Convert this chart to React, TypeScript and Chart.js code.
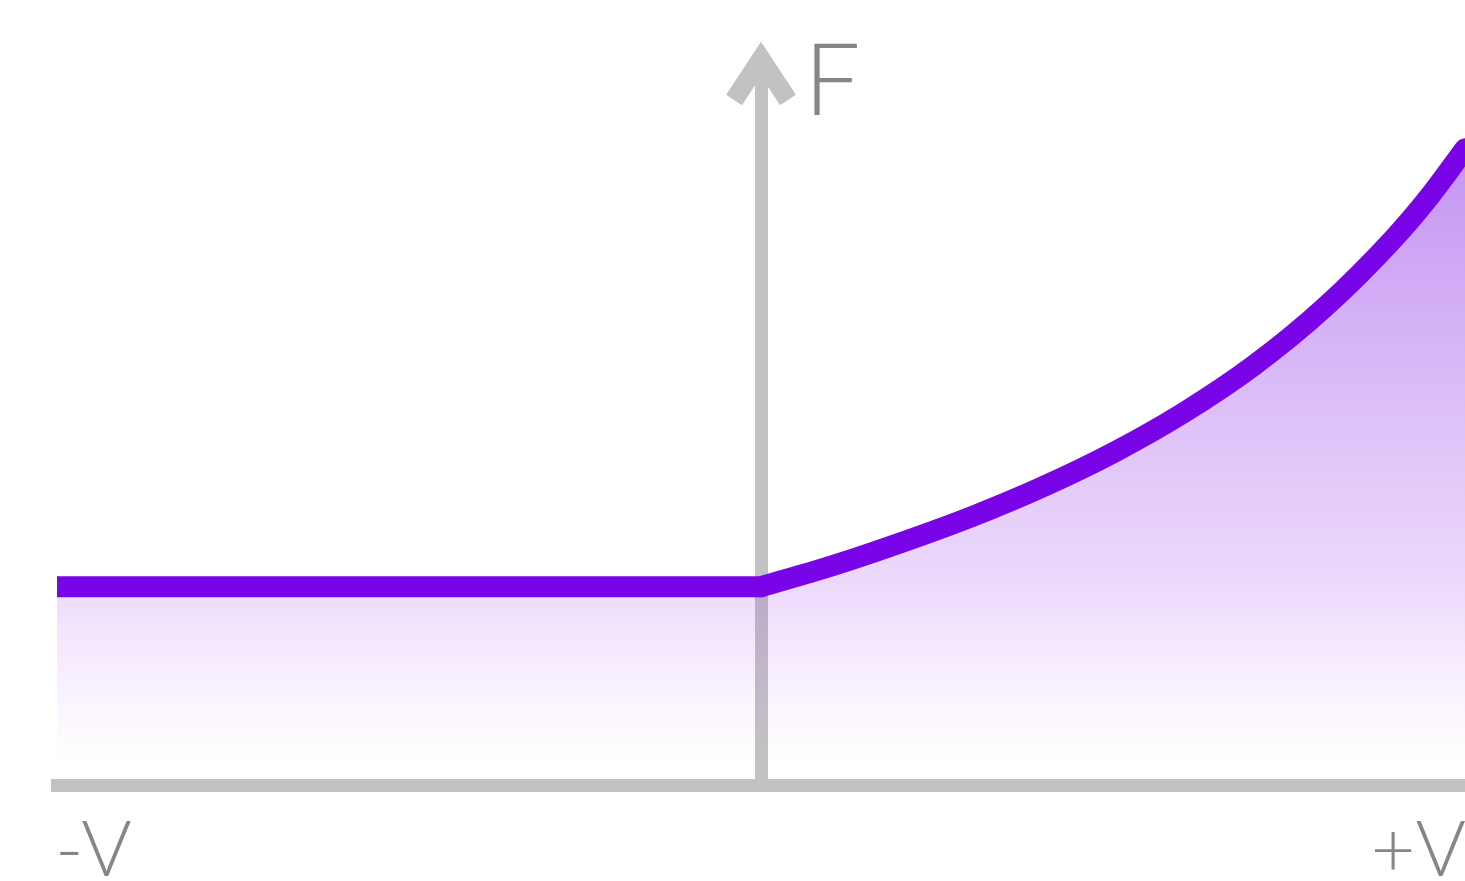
import { useEffect, useRef } from "react";
import { Chart, registerables } from "chart.js";

Chart.register(...registerables);

// ---- data ----
const negativeSideV = [-100, 0];
const negativeSideF = [26.8, 26.8];
const positiveSideV = [0, 10, 20, 30, 40, 50, 60, 70, 80, 90, 95, 100];
const positiveSideF = [26.8, 29.6, 32.8, 36.3, 40.3, 44.9, 50.3, 56.7, 64.5, 74.0, 79.6, 86.0];
const axisTickValues = [-100, 100];
const axisTickLabels = ["-V", "+V"];
const yAxisLabel = "F";

// ---- styles ----
const LINE_COLOR = "rgb(122, 4, 232)";
const AXIS_COLOR = "#c2c2c2";
const TEXT_COLOR = "#868686";
const FONT_FAMILY = "Lato, 'Open Sans', sans-serif";

function makeFill(context: any) {
  const chart = context.chart;
  const { chartArea, scales } = chart;
  if (!chartArea) return "rgba(140,50,230,0.2)";
  const yTop = scales.y.getPixelForValue(86);
  const yBottom = scales.y.getPixelForValue(0);
  const g = chart.ctx.createLinearGradient(0, yTop, 0, yBottom);
  g.addColorStop(0, "rgba(140, 50, 230, 0.52)");
  g.addColorStop(0.69, "rgba(160, 70, 235, 0.2)");
  g.addColorStop(0.97, "rgba(200, 120, 245, 0.0)");
  g.addColorStop(1, "rgba(200, 120, 245, 0.0)");
  return g;
}

const axisDecorPlugin = {
  id: "axisDecor",
  afterDraw(chart: any) {
    const { ctx, scales } = chart;
    const x = scales.x;
    const y = scales.y;
    const cx = x.getPixelForValue(0);
    const top = y.top;
    const bottom = y.bottom;
    ctx.save();
    // arrow head on the F axis
    ctx.strokeStyle = AXIS_COLOR;
    ctx.lineWidth = 19;
    ctx.lineJoin = "miter";
    ctx.lineCap = "butt";
    ctx.beginPath();
    ctx.moveTo(cx - 27, top + 40);
    ctx.lineTo(cx, top - 1);
    ctx.lineTo(cx + 27, top + 40);
    ctx.stroke();
    // F label
    ctx.fillStyle = TEXT_COLOR;
    ctx.font = `300 100px ${FONT_FAMILY}`;
    ctx.textBaseline = "alphabetic";
    ctx.textAlign = "left";
    ctx.fillText(yAxisLabel, cx + 43, top + 55);
    // V axis labels at the ends of the axis
    ctx.font = `300 77px ${FONT_FAMILY}`;
    axisTickValues.forEach((v, i) => {
      const px = x.getPixelForValue(v);
      ctx.textAlign = i === 0 ? "left" : "right";
      ctx.fillText(axisTickLabels[i], i === 0 ? px - 2 : px + 1, bottom + 91);
    });
    ctx.restore();
  },
};

export default function App() {
  const ref = useRef<HTMLCanvasElement | null>(null);

  useEffect(() => {
    if (!ref.current) return;
    const chart = new Chart(ref.current, {
      type: "line",
      data: {
        datasets: [
          {
            label: "neg",
            data: negativeSideV.map((v, i) => ({ x: v, y: negativeSideF[i] })),
            borderColor: LINE_COLOR,
            borderWidth: 21,
            borderCapStyle: "round",
            borderJoinStyle: "round",
            pointRadius: 0,
            tension: 0,
            fill: "origin",
            backgroundColor: makeFill,
            clip: 0,
          },
          {
            label: "pos",
            data: positiveSideV.map((v, i) => ({ x: v, y: positiveSideF[i] })),
            borderColor: LINE_COLOR,
            borderWidth: 21,
            borderCapStyle: "round",
            borderJoinStyle: "round",
            pointRadius: 0,
            cubicInterpolationMode: "monotone",
            fill: "origin",
            backgroundColor: makeFill,
            clip: 0,
          },
        ],
      },
      options: {
        animation: false,
        responsive: false,
        maintainAspectRatio: false,
        events: [],
        layout: { padding: { left: 57, right: 0, top: 60, bottom: 96 } },
        plugins: {
          legend: { display: false },
          tooltip: { enabled: false },
          title: { display: false },
        },
        scales: {
          x: {
            type: "linear",
            min: -100,
            max: 100,
            grid: { display: false, drawTicks: false },
            border: { display: true, color: AXIS_COLOR, width: 13 },
            ticks: { display: false },
          },
          y: {
            type: "linear",
            min: 0,
            max: 98,
            position: { x: 0 },
            grid: { display: false, drawTicks: false },
            border: { display: true, color: AXIS_COLOR, width: 13 },
            ticks: { display: false },
          },
        },
      },
      plugins: [axisDecorPlugin],
    } as any);
    return () => chart.destroy();
  }, []);

  return (
    <canvas
      ref={ref}
      width={1465}
      height={881}
      style={{ position: "fixed", left: 0, top: 0, width: 1465, height: 881, background: "#fff" }}
    />
  );
}
